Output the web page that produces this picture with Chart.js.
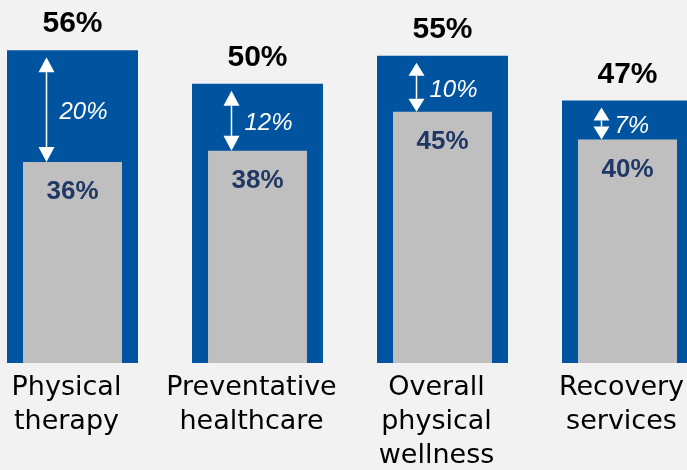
<!DOCTYPE html>
<html>
<head>
<meta charset="utf-8">
<script src="https://cdn.jsdelivr.net/npm/chart.js@4"></script>
<style>
  html, body { margin: 0; padding: 0; background: #f2f2f2; }
  #wrap { position: relative; width: 687px; height: 470px; overflow: hidden; }
  #chart { position: absolute; left: -20px; top: 0; }
</style>
</head>
<body>
<div id="wrap">
  <canvas id="chart" width="740" height="473"></canvas>
</div>
<script>
// categories and the two series (share of respondents, %)
const categories = [
    ['Physical', 'therapy'],
    ['Preventative', 'healthcare'],
    ['Overall', 'physical', 'wellness'],
    ['Recovery', 'services']
];
const totalValues = [56, 50, 55, 47];
const currentValues = [36, 38, 45, 40];

const BLUE = '#00549f';
const GREY = '#bfbfbf';
const NAVY = '#1f3864';

// draws the value labels and the white gap arrows on top of the bars
const barLabels = {
    id: 'barLabels',
    afterDatasetsDraw(chart) {
        const ctx = chart.ctx;
        const blueBars = chart.getDatasetMeta(0).data;
        const greyBars = chart.getDatasetMeta(1).data;

        ctx.save();
        blueBars.forEach((bar, i) => {
            const x = bar.x;
            const topBlue = bar.y;
            const topGrey = greyBars[i].y;

            // total on top of the blue bar
            ctx.fillStyle = '#000';
            ctx.font = 'bold 30px "Liberation Sans", Arial, sans-serif';
            ctx.textAlign = 'center';
            ctx.textBaseline = 'alphabetic';
            ctx.fillText(totalValues[i] + '%', x, topBlue - 18);

            // value inside the grey bar
            ctx.fillStyle = NAVY;
            ctx.font = 'bold 26px "Liberation Sans", Arial, sans-serif';
            ctx.fillText(currentValues[i] + '%', greyBars[i].x, topGrey + 37);

            // double arrow showing the gap
            const ax = x - 26;
            const y1 = topBlue + 7;
            const y2 = topGrey;
            const head = (y2 - y1) > 50 ? 15 : 13;
            ctx.strokeStyle = '#fff';
            ctx.fillStyle = '#fff';
            ctx.lineWidth = 1.5;
            ctx.beginPath();
            ctx.moveTo(ax, y1 + head);
            ctx.lineTo(ax, y2 - head);
            ctx.stroke();
            ctx.beginPath();
            ctx.moveTo(ax, y1);
            ctx.lineTo(ax - 8, y1 + head);
            ctx.lineTo(ax + 8, y1 + head);
            ctx.closePath();
            ctx.fill();
            ctx.beginPath();
            ctx.moveTo(ax, y2);
            ctx.lineTo(ax - 8, y2 - head);
            ctx.lineTo(ax + 8, y2 - head);
            ctx.closePath();
            ctx.fill();

            // gap label
            ctx.font = 'italic 24px "Liberation Sans", Arial, sans-serif';
            ctx.textAlign = 'left';
            ctx.textBaseline = 'middle';
            ctx.fillText((totalValues[i] - currentValues[i]) + '%', ax + 13, (y1 + y2) / 2 + 3);
        });
        ctx.restore();
    }
};

new Chart(document.getElementById('chart'), {
    type: 'bar',
    data: {
        labels: categories,
        datasets: [
            {
                label: 'Total',
                data: totalValues,
                backgroundColor: BLUE,
                barPercentage: 0.708,
                categoryPercentage: 1,
                grouped: false,
                order: 1
            },
            {
                label: 'Current',
                data: currentValues,
                backgroundColor: GREY,
                barPercentage: 0.535,
                categoryPercentage: 1,
                grouped: false,
                order: 0
            }
        ]
    },
    options: {
        responsive: false,
        animation: false,
        layout: { padding: 0 },
        plugins: {
            legend: { display: false },
            tooltip: { enabled: false }
        },
        scales: {
            x: {
                grid: { display: false },
                border: { display: false },
                ticks: {
                    color: '#000',
                    padding: 0,
                    labelOffset: -6,
                    maxRotation: 0,
                    autoSkip: false,
                    font: { family: '"DejaVu Sans", sans-serif', size: 27, lineHeight: 34 / 27 }
                }
            },
            y: {
                display: false,
                min: 0,
                max: 65
            }
        }
    },
    plugins: [barLabels]
});
</script>
</body>
</html>
